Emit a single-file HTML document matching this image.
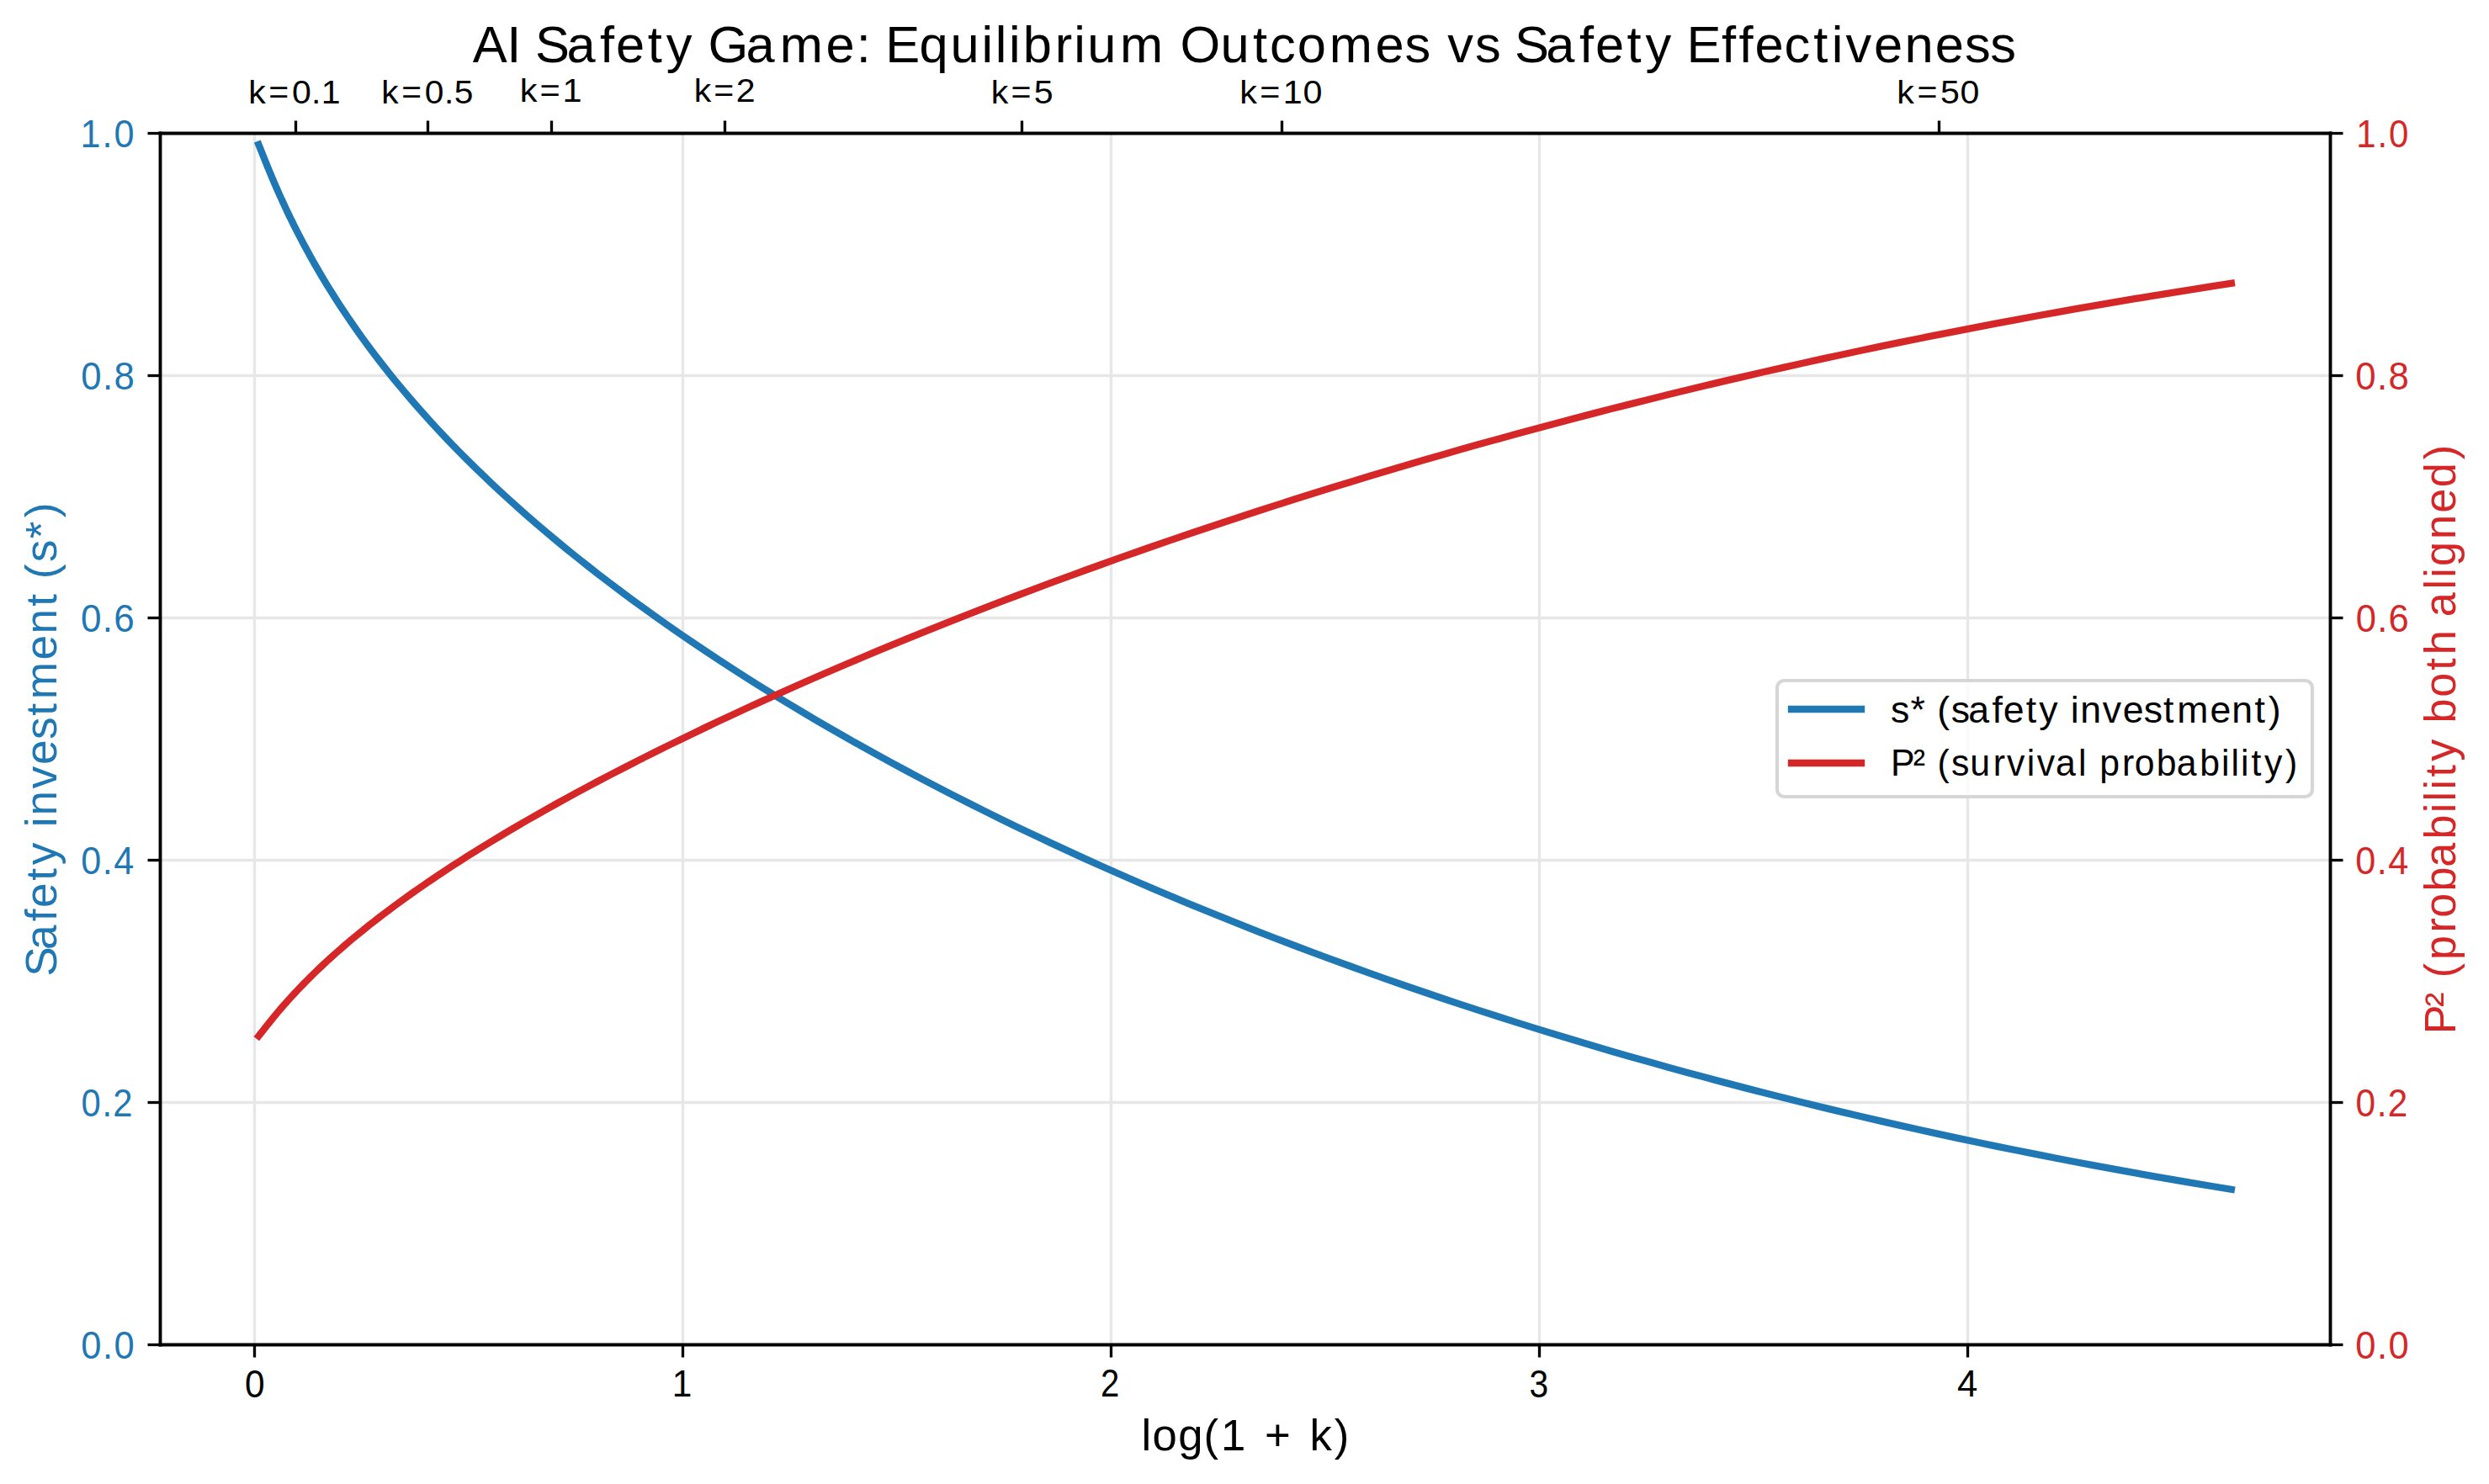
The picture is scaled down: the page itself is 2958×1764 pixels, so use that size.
<!DOCTYPE html><html><head><meta charset="utf-8"><title>AI Safety Game: Equilibrium Outcomes vs Safety Effectiveness</title><style>html,body{margin:0;padding:0;background:#fff;}svg{display:block;}text{font-family:"Liberation Sans",sans-serif;}</style></head><body>
<svg width="2958" height="1764" viewBox="0 0 2958 1764">
<rect x="0" y="0" width="2958" height="1764" fill="#ffffff"/>
<g stroke="#e7e7e7" stroke-width="3.4"><line x1="302.5" y1="158.5" x2="302.5" y2="1598.5"/><line x1="811.5" y1="158.5" x2="811.5" y2="1598.5"/><line x1="1320.5" y1="158.5" x2="1320.5" y2="1598.5"/><line x1="1829.5" y1="158.5" x2="1829.5" y2="1598.5"/><line x1="2338.5" y1="158.5" x2="2338.5" y2="1598.5"/><line x1="190.5" y1="446.5" x2="2769.5" y2="446.5"/><line x1="190.5" y1="734.5" x2="2769.5" y2="734.5"/><line x1="190.5" y1="1022.5" x2="2769.5" y2="1022.5"/><line x1="190.5" y1="1310.5" x2="2769.5" y2="1310.5"/></g>
<path d="M307.37 171.82 L307.60 172.40 L307.85 173.01 L308.12 173.64 L308.39 174.32 L308.68 175.02 L308.98 175.76 L309.29 176.54 L309.62 177.36 L309.96 178.22 L310.32 179.12 L310.70 180.06 L311.10 181.05 L311.51 182.08 L311.94 183.16 L312.39 184.30 L312.87 185.48 L313.36 186.72 L313.88 188.01 L314.42 189.37 L314.99 190.78 L315.58 192.25 L316.20 193.79 L316.85 195.39 L317.53 197.07 L318.24 198.81 L318.98 200.62 L319.76 202.51 L320.57 204.48 L321.42 206.52 L322.31 208.65 L323.24 210.86 L324.21 213.15 L325.22 215.54 L326.29 218.01 L327.39 220.58 L328.55 223.24 L329.76 226.01 L331.03 228.87 L332.35 231.83 L333.73 234.90 L335.17 238.07 L336.68 241.35 L338.25 244.75 L339.89 248.25 L341.61 251.87 L343.39 255.61 L345.26 259.47 L347.21 263.44 L349.24 267.54 L351.36 271.77 L353.57 276.12 L355.88 280.59 L358.28 285.20 L360.79 289.93 L363.40 294.80 L366.12 299.80 L368.95 304.93 L371.90 310.19 L374.97 315.59 L378.17 321.13 L381.50 326.79 L384.96 332.60 L388.56 338.54 L392.31 344.61 L396.20 350.83 L400.25 357.17 L404.45 363.65 L408.82 370.27 L413.35 377.01 L418.05 383.89 L422.93 390.91 L428.00 398.05 L433.25 405.32 L438.69 412.72 L444.32 420.24 L450.16 427.89 L456.20 435.66 L462.46 443.55 L468.92 451.56 L475.61 459.68 L482.52 467.92 L489.66 476.27 L497.03 484.73 L504.64 493.30 L512.49 501.97 L520.58 510.74 L528.92 519.61 L537.51 528.58 L546.36 537.64 L555.46 546.79 L564.83 556.02 L574.45 565.34 L584.34 574.74 L594.50 584.22 L604.92 593.77 L615.61 603.39 L626.58 613.07 L637.82 622.82 L649.32 632.63 L661.11 642.49 L673.16 652.41 L685.49 662.37 L698.08 672.38 L710.95 682.43 L724.09 692.51 L737.50 702.63 L751.17 712.78 L765.11 722.95 L779.31 733.14 L793.77 743.34 L808.49 753.56 L823.46 763.79 L838.68 774.02 L854.15 784.25 L869.86 794.48 L885.82 804.70 L902.01 814.91 L918.43 825.10 L935.08 835.27 L951.96 845.42 L969.05 855.54 L986.36 865.63 L1003.88 875.69 L1021.61 885.71 L1039.54 895.69 L1057.66 905.62 L1075.97 915.51 L1094.47 925.35 L1113.15 935.13 L1132.01 944.85 L1151.04 954.52 L1170.24 964.13 L1189.60 973.67 L1209.12 983.15 L1228.78 992.55 L1248.60 1001.89 L1268.56 1011.15 L1288.66 1020.34 L1308.90 1029.46 L1329.26 1038.49 L1349.75 1047.45 L1370.37 1056.32 L1391.09 1065.11 L1411.94 1073.82 L1432.89 1082.45 L1453.95 1090.98 L1475.11 1099.44 L1496.36 1107.80 L1517.72 1116.08 L1539.16 1124.26 L1560.69 1132.36 L1582.30 1140.36 L1604.00 1148.28 L1625.77 1156.10 L1647.62 1163.84 L1669.54 1171.48 L1691.54 1179.02 L1713.59 1186.48 L1735.71 1193.84 L1757.90 1201.11 L1780.14 1208.28 L1802.43 1215.37 L1824.79 1222.36 L1847.19 1229.25 L1869.64 1236.06 L1892.15 1242.77 L1914.69 1249.38 L1937.29 1255.91 L1959.92 1262.34 L1982.59 1268.68 L2005.31 1274.92 L2028.06 1281.08 L2050.84 1287.14 L2073.66 1293.11 L2096.52 1298.99 L2119.40 1304.78 L2142.31 1310.48 L2165.26 1316.09 L2188.23 1321.60 L2211.22 1327.03 L2234.24 1332.37 L2257.29 1337.62 L2280.35 1342.79 L2303.44 1347.86 L2326.55 1352.85 L2349.68 1357.75 L2372.83 1362.56 L2396.00 1367.29 L2419.19 1371.94 L2442.39 1376.50 L2465.61 1380.97 L2488.84 1385.36 L2512.09 1389.67 L2535.35 1393.90 L2558.63 1398.05 L2581.92 1402.11 L2605.22 1406.10 L2628.53 1410.00 L2651.86 1413.83" fill="none" stroke="#1f77b4" stroke-width="8.333" stroke-linecap="square" stroke-linejoin="round"/>
<path d="M307.37 1231.51 L307.60 1231.22 L307.85 1230.91 L308.12 1230.59 L308.39 1230.25 L308.68 1229.89 L308.98 1229.52 L309.29 1229.12 L309.62 1228.71 L309.96 1228.27 L310.32 1227.82 L310.70 1227.34 L311.10 1226.84 L311.51 1226.31 L311.94 1225.76 L312.39 1225.18 L312.87 1224.58 L313.36 1223.95 L313.88 1223.29 L314.42 1222.60 L314.99 1221.88 L315.58 1221.12 L316.20 1220.34 L316.85 1219.51 L317.53 1218.66 L318.24 1217.76 L318.98 1216.83 L319.76 1215.86 L320.57 1214.84 L321.42 1213.79 L322.31 1212.69 L323.24 1211.54 L324.21 1210.35 L325.22 1209.11 L326.29 1207.82 L327.39 1206.49 L328.55 1205.10 L329.76 1203.65 L331.03 1202.15 L332.35 1200.60 L333.73 1198.98 L335.17 1197.31 L336.68 1195.58 L338.25 1193.78 L339.89 1191.92 L341.61 1189.99 L343.39 1188.00 L345.26 1185.94 L347.21 1183.81 L349.24 1181.61 L351.36 1179.33 L353.57 1176.98 L355.88 1174.56 L358.28 1172.05 L360.79 1169.47 L363.40 1166.81 L366.12 1164.07 L368.95 1161.25 L371.90 1158.35 L374.97 1155.36 L378.17 1152.28 L381.50 1149.12 L384.96 1145.88 L388.56 1142.54 L392.31 1139.12 L396.20 1135.60 L400.25 1132.00 L404.45 1128.30 L408.82 1124.52 L413.35 1120.64 L418.05 1116.67 L422.93 1112.60 L428.00 1108.45 L433.25 1104.20 L438.69 1099.85 L444.32 1095.42 L450.16 1090.89 L456.20 1086.27 L462.46 1081.55 L468.92 1076.74 L475.61 1071.84 L482.52 1066.85 L489.66 1061.76 L497.03 1056.58 L504.64 1051.32 L512.49 1045.96 L520.58 1040.51 L528.92 1034.98 L537.51 1029.36 L546.36 1023.65 L555.46 1017.85 L564.83 1011.98 L574.45 1006.01 L584.34 999.97 L594.50 993.85 L604.92 987.64 L615.61 981.36 L626.58 975.01 L637.82 968.58 L649.32 962.07 L661.11 955.50 L673.16 948.86 L685.49 942.15 L698.08 935.38 L710.95 928.54 L724.09 921.65 L737.50 914.69 L751.17 907.69 L765.11 900.63 L779.31 893.51 L793.77 886.36 L808.49 879.15 L823.46 871.91 L838.68 864.62 L854.15 857.30 L869.86 849.95 L885.82 842.56 L902.01 835.15 L918.43 827.71 L935.08 820.25 L951.96 812.77 L969.05 805.28 L986.36 797.77 L1003.88 790.26 L1021.61 782.73 L1039.54 775.21 L1057.66 767.68 L1075.97 760.15 L1094.47 752.63 L1113.15 745.12 L1132.01 737.62 L1151.04 730.12 L1170.24 722.65 L1189.60 715.19 L1209.12 707.76 L1228.78 700.34 L1248.60 692.96 L1268.56 685.60 L1288.66 678.26 L1308.90 670.97 L1329.26 663.70 L1349.75 656.47 L1370.37 649.28 L1391.09 642.13 L1411.94 635.02 L1432.89 627.95 L1453.95 620.93 L1475.11 613.96 L1496.36 607.03 L1517.72 600.15 L1539.16 593.33 L1560.69 586.55 L1582.30 579.83 L1604.00 573.16 L1625.77 566.55 L1647.62 559.99 L1669.54 553.50 L1691.54 547.06 L1713.59 540.68 L1735.71 534.36 L1757.90 528.10 L1780.14 521.91 L1802.43 515.78 L1824.79 509.71 L1847.19 503.70 L1869.64 497.76 L1892.15 491.89 L1914.69 486.08 L1937.29 480.34 L1959.92 474.67 L1982.59 469.06 L2005.31 463.52 L2028.06 458.05 L2050.84 452.65 L2073.66 447.32 L2096.52 442.06 L2119.40 436.86 L2142.31 431.74 L2165.26 426.69 L2188.23 421.70 L2211.22 416.79 L2234.24 411.95 L2257.29 407.18 L2280.35 402.48 L2303.44 397.85 L2326.55 393.29 L2349.68 388.81 L2372.83 384.39 L2396.00 380.04 L2419.19 375.77 L2442.39 371.56 L2465.61 367.43 L2488.84 363.36 L2512.09 359.37 L2535.35 355.45 L2558.63 351.59 L2581.92 347.81 L2605.22 344.09 L2628.53 340.44 L2651.86 336.86" fill="none" stroke="#d62728" stroke-width="8.333" stroke-linecap="square" stroke-linejoin="round"/>
<g stroke="#000000" stroke-width="3.86" stroke-linecap="square"><line x1="190.5" y1="158.5" x2="190.5" y2="1598.5"/><line x1="2769.5" y1="158.5" x2="2769.5" y2="1598.5"/><line x1="190.5" y1="158.5" x2="2769.5" y2="158.5"/><line x1="190.5" y1="1598.5" x2="2769.5" y2="1598.5"/></g>
<g stroke="#000000" stroke-width="3.333"><line x1="175.5" y1="158.5" x2="190.5" y2="158.5"/><line x1="2769.5" y1="158.5" x2="2784.5" y2="158.5"/><line x1="175.5" y1="446.5" x2="190.5" y2="446.5"/><line x1="2769.5" y1="446.5" x2="2784.5" y2="446.5"/><line x1="175.5" y1="734.5" x2="190.5" y2="734.5"/><line x1="2769.5" y1="734.5" x2="2784.5" y2="734.5"/><line x1="175.5" y1="1022.5" x2="190.5" y2="1022.5"/><line x1="2769.5" y1="1022.5" x2="2784.5" y2="1022.5"/><line x1="175.5" y1="1310.5" x2="190.5" y2="1310.5"/><line x1="2769.5" y1="1310.5" x2="2784.5" y2="1310.5"/><line x1="175.5" y1="1598.5" x2="190.5" y2="1598.5"/><line x1="2769.5" y1="1598.5" x2="2784.5" y2="1598.5"/><line x1="302.5" y1="1598.5" x2="302.5" y2="1613.5"/><line x1="811.5" y1="1598.5" x2="811.5" y2="1613.5"/><line x1="1320.5" y1="1598.5" x2="1320.5" y2="1613.5"/><line x1="1829.5" y1="1598.5" x2="1829.5" y2="1613.5"/><line x1="2338.5" y1="1598.5" x2="2338.5" y2="1613.5"/><line x1="351.5" y1="143.5" x2="351.5" y2="158.5"/><line x1="508.5" y1="143.5" x2="508.5" y2="158.5"/><line x1="655.5" y1="143.5" x2="655.5" y2="158.5"/><line x1="861.5" y1="143.5" x2="861.5" y2="158.5"/><line x1="1214.5" y1="143.5" x2="1214.5" y2="158.5"/><line x1="1523.5" y1="143.5" x2="1523.5" y2="158.5"/><line x1="2304.5" y1="143.5" x2="2304.5" y2="158.5"/></g>
<rect x="2112" y="809" width="636" height="138" rx="8.33" ry="8.33" fill="#ffffff" fill-opacity="0.8" stroke="#d6d6d6" stroke-width="4.17"/>
<line x1="2129" y1="843" x2="2212" y2="843" stroke="#1f77b4" stroke-width="8.333" stroke-linecap="square"/>
<line x1="2129" y1="907" x2="2212" y2="907" stroke="#d62728" stroke-width="8.333" stroke-linecap="square"/>
<text transform="matrix(0.61451,0,0,0.61093,562.700,74.293)" x="-1.69 64.22 124.22 119.49 180.17 244.64 275.56 336.80 372.58 432.58 453.72 527.06 592.31 681.46 740.35 800.35 796.66 862.02 922.56 982.75 1009.10 1035.46 1062.59 1124.65 1161.03 1187.33 1250.24 1310.24 1366.45 1444.68 1507.21 1539.92 1593.35 1654.98 1744.13 1801.28 1861.28 1883.59 1937.00 1997.00 2013.47 2074.15 2138.62 2169.54 2230.78 2266.56 2326.56 2346.11 2413.81 2447.20 2478.12 2534.88 2591.52 2626.37 2653.71 2708.33 2767.63 2826.82 2883.97 2933.39" y="0" font-size="100" fill="#000000">AI Safety Game: Equilibrium Outcomes vs Safety Effectiveness</text>
<text transform="matrix(0.41010,0,0,0.39456,298.000,122.605)" x="-6.71 51.94 119.26 175.80 204.06" y="0" font-size="100" fill="#000000">k=0.1</text>
<text transform="matrix(0.40750,0,0,0.39456,456.000,122.605)" x="-6.61 52.31 119.93 176.67 205.32" y="0" font-size="100" fill="#000000">k=0.5</text>
<text transform="matrix(0.41524,0,0,0.38621,620.700,121.000)" x="-7.19 50.12 115.39" y="0" font-size="100" fill="#000000">k=1</text>
<text transform="matrix(0.41099,0,0,0.38621,827.700,121.000)" x="-7.20 50.10 114.74" y="0" font-size="100" fill="#000000">k=2</text>
<text transform="matrix(0.41123,0,0,0.39456,1180.700,122.605)" x="-7.05 50.68 116.63" y="0" font-size="100" fill="#000000">k=5</text>
<text transform="matrix(0.41277,0,0,0.39456,1476.000,122.605)" x="-6.75 51.77 118.40 175.74" y="0" font-size="100" fill="#000000">k=10</text>
<text transform="matrix(0.41077,0,0,0.39456,2257.000,122.605)" x="-6.65 52.17 119.31 176.73" y="0" font-size="100" fill="#000000">k=50</text>
<text transform="matrix(0.43486,0,0,0.46610,98.000,1614.534)" x="-3.94 55.04 86.31" y="0" font-size="100" fill="#1f77b4">0.0</text>
<text transform="matrix(0.43486,0,0,0.46610,2801.000,1614.534)" x="-3.94 55.04 86.31" y="0" font-size="100" fill="#d62728">0.0</text>
<text transform="matrix(0.41826,0,0,0.46610,98.000,1326.534)" x="-3.54 56.19 86.91" y="0" font-size="100" fill="#1f77b4">0.2</text>
<text transform="matrix(0.42337,0,0,0.46610,2801.000,1326.534)" x="-3.54 56.19 86.91" y="0" font-size="100" fill="#d62728">0.2</text>
<text transform="matrix(0.43172,0,0,0.46610,98.000,1038.534)" x="-3.93 55.07 86.33" y="0" font-size="100" fill="#1f77b4">0.4</text>
<text transform="matrix(0.43172,0,0,0.46610,2801.000,1038.534)" x="-3.93 55.07 86.33" y="0" font-size="100" fill="#d62728">0.4</text>
<text transform="matrix(0.44069,0,0,0.46610,98.000,750.534)" x="-4.30 53.99 84.55" y="0" font-size="100" fill="#1f77b4">0.6</text>
<text transform="matrix(0.43555,0,0,0.46610,2801.700,750.534)" x="-4.30 53.99 84.55" y="0" font-size="100" fill="#d62728">0.6</text>
<text transform="matrix(0.43721,0,0,0.46610,98.000,462.534)" x="-4.03 54.77 85.86" y="0" font-size="100" fill="#1f77b4">0.8</text>
<text transform="matrix(0.43721,0,0,0.46610,2801.000,462.534)" x="-4.03 54.77 85.86" y="0" font-size="100" fill="#d62728">0.8</text>
<text transform="matrix(0.43246,0,0,0.46610,99.000,174.534)" x="-8.20 52.14 84.30" y="0" font-size="100" fill="#1f77b4">1.0</text>
<text transform="matrix(0.42000,0,0,0.46610,2803.700,174.534)" x="-8.20 52.14 84.30" y="0" font-size="100" fill="#d62728">1.0</text>
<text transform="matrix(0.42469,0,0,0.46610,292.700,1660.534)" x="-3.90" y="0" font-size="100" fill="#000000">0</text>
<text transform="matrix(0.42459,0,0,0.45058,802.000,1660.000)" x="-7.60" y="0" font-size="100" fill="#000000">1</text>
<text transform="matrix(0.40132,0,0,0.45845,1310.000,1660.000)" x="-5.00" y="0" font-size="100" fill="#000000">2</text>
<text transform="matrix(0.40717,0,0,0.46610,1819.000,1660.534)" x="-3.80" y="0" font-size="100" fill="#000000">3</text>
<text transform="matrix(0.43651,0,0,0.45058,2327.000,1660.000)" x="-2.30" y="0" font-size="100" fill="#000000">4</text>
<text transform="matrix(0.52706,0,0,0.52197,1360.000,1723.843)" x="-6.87 18.27 76.30 133.70 172.82 232.82 271.15 331.15 372.61 428.31" y="0" font-size="100" fill="#000000">log(1 + k)</text>
<text transform="matrix(0,-0.53132,0.52197,0,66.843,1155.900)" x="-9.34 50.57 114.37 144.71 205.30 240.47 300.47 324.86 351.05 410.98 464.83 521.26 574.19 610.91 699.04 757.55 818.95 878.95 880.30 917.75 970.44 1017.41" y="0" font-size="100" fill="#1f77b4">Safety investment (s*)</text>
<text transform="matrix(0,-0.52220,0.52197,0,2917.843,1222.900)" x="-12.35 49.76 109.76 116.11 156.97 219.24 252.84 312.84 368.17 431.79 491.43 517.92 544.41 573.28 609.30 669.30 695.91 754.77 816.26 851.62 911.62 937.70 1000.43 1026.92 1053.12 1114.45 1173.93 1232.73 1295.86" y="0" font-size="100" fill="#d62728">P² (probability both aligned)</text>
<text transform="matrix(0.44622,0,0,0.44266,2249.400,858.793)" x="-5.16 47.18 107.18 118.32 155.46 201.17 264.60 294.63 354.86 389.70 449.70 473.56 499.45 558.95 612.39 668.41 721.02 757.30 844.87 902.94 963.98 1000.34" y="0" font-size="100" fill="#000000">s* (safety investment)</text>
<text transform="matrix(0.42763,0,0,0.44266,2252.100,921.793)" x="-12.04 50.62 110.62 117.86 156.67 208.76 272.52 310.68 366.55 394.65 446.42 509.70 569.70 568.43 631.36 665.64 726.43 782.48 846.90 907.06 933.89 960.72 990.00 1026.64 1084.93" y="0" font-size="100" fill="#000000">P² (survival probability)</text>
</svg></body></html>
